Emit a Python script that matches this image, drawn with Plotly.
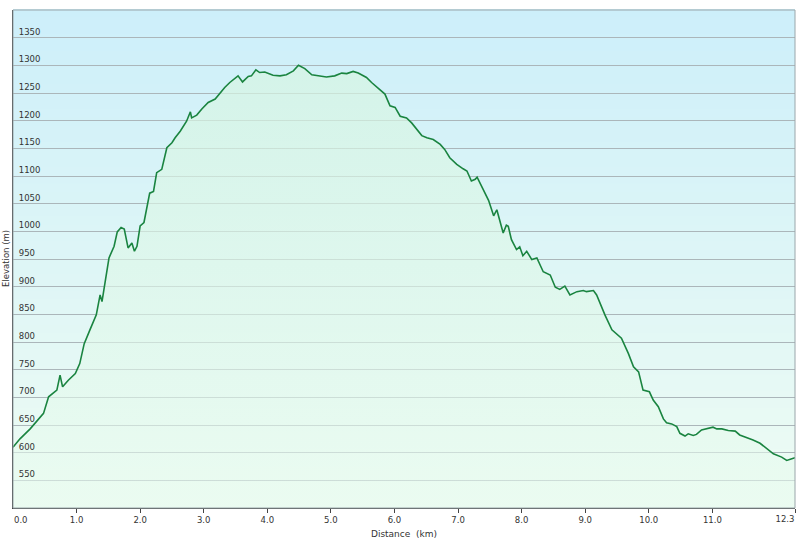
import plotly.graph_objects as go

distance_km = [0.00, 0.11, 0.27, 0.32, 0.48, 0.56, 0.69, 0.74, 0.78, 0.87, 0.98, 1.05, 1.12, 1.21,
               1.31, 1.37, 1.40, 1.45, 1.51, 1.59, 1.64, 1.70, 1.75, 1.81, 1.87, 1.91, 1.95, 2.00,
               2.06, 2.15, 2.21, 2.26, 2.34, 2.42, 2.50, 2.55, 2.63, 2.73, 2.79, 2.81, 2.89, 2.97,
               3.07, 3.18, 3.26, 3.33, 3.41, 3.52, 3.54, 3.61, 3.70, 3.75, 3.82, 3.88, 3.96, 4.09,
               4.20, 4.30, 4.41, 4.49, 4.59, 4.70, 4.83, 4.93, 5.06, 5.17, 5.25, 5.35, 5.43, 5.56,
               5.64, 5.75, 5.85, 5.93, 6.01, 6.09, 6.19, 6.27, 6.35, 6.43, 6.51, 6.61, 6.72, 6.79,
               6.87, 6.98, 7.08, 7.14, 7.21, 7.27, 7.30, 7.40, 7.48, 7.56, 7.61, 7.71, 7.76, 7.79,
               7.84, 7.92, 7.97, 8.02, 8.08, 8.16, 8.24, 8.34, 8.45, 8.53, 8.60, 8.68, 8.76, 8.87,
               8.97, 9.02, 9.13, 9.18, 9.22, 9.31, 9.42, 9.50, 9.57, 9.68, 9.76, 9.84, 9.91, 10.01,
               10.07, 10.15, 10.23, 10.28, 10.36, 10.44, 10.49, 10.57, 10.62, 10.70, 10.75, 10.83,
               10.91, 11.01, 11.07, 11.15, 11.25, 11.36, 11.43, 11.54, 11.64, 11.75, 11.86, 11.96,
               12.09, 12.17, 12.25, 12.30]
elevation_m = [610, 625, 643, 650, 671, 701, 713, 740, 719, 731, 743, 761, 797, 822,
               849, 885, 873, 909, 952, 973, 999, 1007, 1004, 970, 979, 964, 973, 1010,
               1016, 1069, 1072, 1106, 1112, 1151, 1160, 1169, 1181, 1199, 1216, 1205, 1210, 1221,
               1233, 1239, 1251, 1260, 1269, 1280, 1281, 1270, 1280, 1281, 1292, 1287, 1288, 1282,
               1281, 1283, 1290, 1300, 1294, 1283, 1281, 1279, 1281, 1286, 1285, 1289, 1286, 1278,
               1269, 1258, 1248, 1227, 1224, 1208, 1205, 1196, 1184, 1173, 1169, 1166, 1157, 1148,
               1133, 1121, 1113, 1109, 1091, 1094, 1098, 1076, 1056, 1028, 1039, 997, 1011, 1009,
               985, 967, 972, 956, 964, 949, 952, 927, 921, 899, 895, 901, 885, 891,
               893, 891, 893, 885, 873, 849, 822, 813, 807, 779, 755, 746, 713, 710,
               695, 683, 661, 654, 652, 647, 635, 630, 634, 631, 633, 641,
               643, 646, 643, 643, 640, 639, 632, 628, 623, 617, 607, 598,
               592, 586, 589, 591]

y_ticks = [550, 600, 650, 700, 750, 800, 850, 900, 950, 1000, 1050, 1100, 1150, 1200, 1250, 1300, 1350]
x_ticks = [0, 1, 2, 3, 4, 5, 6, 7, 8, 9, 10, 11, 12.3]
x_ticktext = ["0.0", "1.0", "2.0", "3.0", "4.0", "5.0", "6.0", "7.0", "8.0", "9.0", "10.0", "11.0", "12.3"]

FONT = "DejaVu Sans"
TXT = "#333333"
TICKFONT = dict(family=FONT, size=8.5, color=TXT)

fig = go.Figure()
fig.add_trace(go.Scatter(
    x=distance_km, y=elevation_m, mode="lines",
    line=dict(color="#1a8440", width=1.6),
    fill="tozeroy",
    fillgradient=dict(type="vertical", start=500, stop=1300,
                      colorscale=[[0, "rgba(232,251,239,0.55)"], [1, "rgba(214,245,226,0.7)"]]),
    hoverinfo="skip", showlegend=False,
))

# background vertical gradient (blue top -> mint bottom)
top_c = (205, 239, 250)
bot_c = (238, 252, 243)
N = 60
shapes = []
for i in range(N):
    t = i / (N - 1)
    c = tuple(round(top_c[k] + (bot_c[k] - top_c[k]) * t) for k in range(3))
    shapes.append(dict(type="rect", xref="paper", yref="paper",
                       x0=0, x1=1, y0=1 - (i + 1) / N, y1=1 - i / N + 0.002,
                       fillcolor="rgb(%d,%d,%d)" % c, line=dict(width=0), layer="below"))
shapes.append(dict(type="rect", xref="paper", yref="paper", x0=0, x1=1, y0=0, y1=1,
                   line=dict(color="#9aa6aa", width=1), layer="above"))

fig.update_layout(
    width=800, height=541,
    margin=dict(l=13, r=5, t=10, b=33),
    paper_bgcolor="white", plot_bgcolor="rgba(0,0,0,0)",
    template="none",
    shapes=shapes,
    font=dict(family=FONT, size=9, color=TXT),
    xaxis=dict(
        range=[0, 12.3], tickvals=x_ticks,
        ticktext=[""] + x_ticktext[1:-1] + [""],
        ticks="outside", ticklen=4, tickcolor="#444", tickwidth=1,
        showgrid=False, zeroline=False, showline=True, linecolor="#444", linewidth=1,
        tickfont=TICKFONT,
        title=dict(text="Distance  (km)", font=dict(family=FONT, size=9, color=TXT), standoff=6),
        automargin=False,
    ),
    xaxis3=dict(
        range=[0, 12.3], overlaying="x", anchor="y", side="bottom",
        tickvals=[x_ticks[-1]], ticktext=[x_ticktext[-1]], ticks="",
        ticklabelshift=-10, ticklabelstandoff=4,
        showgrid=False, zeroline=False, showline=False,
        tickfont=TICKFONT, automargin=False,
    ),
    yaxis=dict(
        range=[500, 1400], tickvals=y_ticks,
        ticklabelposition="inside top", ticks="", ticklabelstandoff=4,
        showgrid=True, gridcolor="#abb6ba", gridwidth=1,
        zeroline=False, showline=True, linecolor="#333", linewidth=1,
        tickfont=TICKFONT,
        automargin=False,
    ),
    annotations=[
        dict(text="Elevation (m)", xref="paper", yref="paper", x=0, y=0.5,
             xanchor="center", yanchor="middle", xshift=-7, textangle=-90,
             showarrow=False, font=dict(family=FONT, size=8.5, color=TXT)),
        dict(text=x_ticktext[0], xref="x", yref="paper", x=x_ticks[0], y=0,
             xanchor="left", yanchor="top", xshift=-1, yshift=-5,
             showarrow=False, font=TICKFONT),
    ],
)
fig.add_trace(go.Scatter(x=[], y=[], xaxis="x3", showlegend=False, hoverinfo="skip"))

fig.write_html("out.html", config={"displayModeBar": False},
               post_script="document.body.style.margin='0px';")
